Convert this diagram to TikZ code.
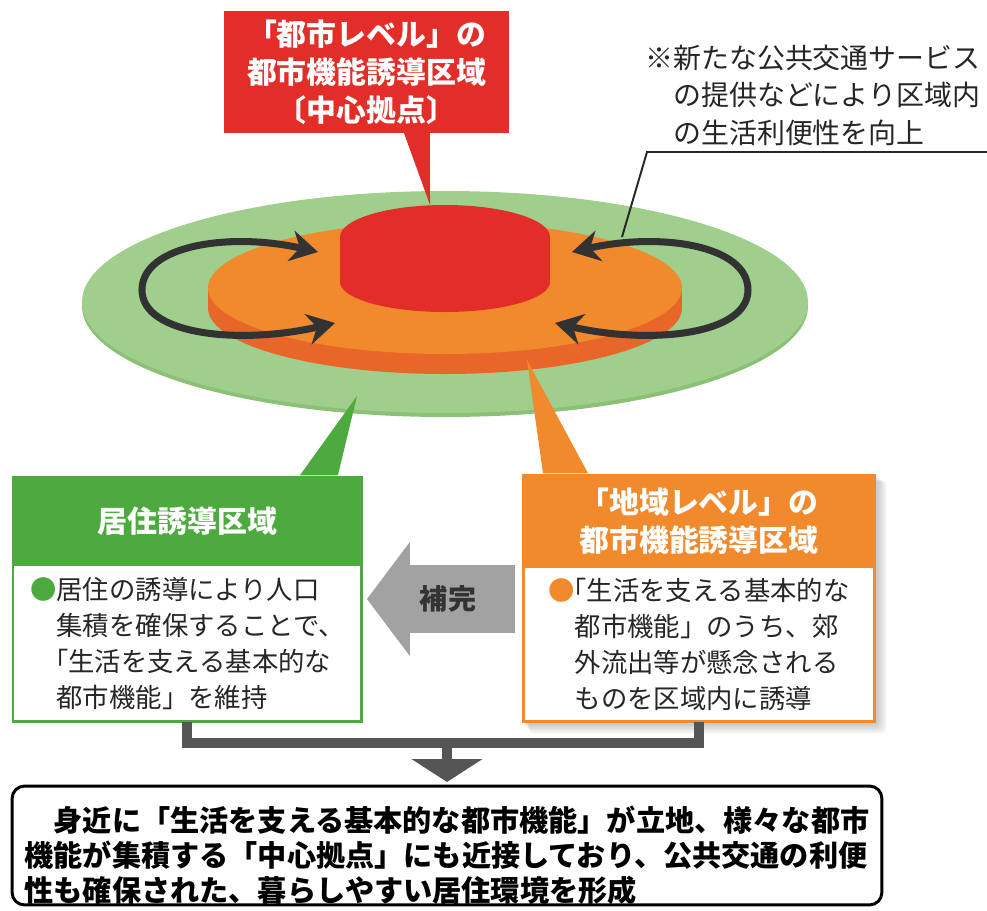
\documentclass[tikz,border=0pt]{standalone}
\usepackage{fontspec}
\setmainfont{Noto Sans CJK JP}
\usetikzlibrary{arrows.meta, positioning, calc}

\definecolor{cityred}{RGB}{227,45,40}
\definecolor{regionorange}{RGB}{240,138,44}
\definecolor{rimorange}{RGB}{232,102,40}
\definecolor{livegreen}{RGB}{76,170,62}
\definecolor{palegreen}{RGB}{160,206,140}
\definecolor{rimgreen}{RGB}{140,192,118}
\definecolor{loopgray}{RGB}{50,50,50}
\definecolor{bargray}{RGB}{85,85,85}
\definecolor{hokangray}{RGB}{162,162,162}

\begin{document}
\begin{tikzpicture}[x=0.02cm, y=-0.02cm,
  headbox/.style={draw=#1, fill=#1, line width=1.7pt, text=white, inner sep=0pt, outer sep=0pt,
    align=center, font=\bfseries\fontsize{17pt}{21.6pt}\selectfont},
  bodybox/.style={draw=#1, fill=white, line width=1.7pt, inner sep=0pt, outer sep=0pt,
    align=left, text=black!85, font=\fontsize{15pt}{20.5pt}\selectfont},
  looparrow/.style={draw=loopgray, line width=4pt,
    arrows={Stealth[length=0.55cm, width=0.62cm, inset=0.18cm]-Stealth[length=0.55cm, width=0.62cm, inset=0.18cm]}},
  bracket/.style={draw=bargray, line width=0.2cm, line join=miter},
  hokanarrow/.style={draw=hokangray, line width=1.36cm, -{Triangle[width=2.24cm, length=0.86cm]}},
  leader/.style={draw=black!85, line width=1.1pt}
]
  \useasboundingbox (0,0) rectangle (987,910);

  % outer green ring (residential area)
  \fill[rimgreen] (445,306) ellipse [x radius=363, y radius=111];
  \fill[palegreen] (445,302) ellipse [x radius=363, y radius=111];

  % orange disk (regional level)
  \fill[rimorange] (445,308) ellipse [x radius=237, y radius=66];
  \fill[rimorange] (208,288) rectangle (682,308);
  \fill[regionorange] (445,288) ellipse [x radius=237, y radius=66];

  % red cylinder (city level)
  \fill[cityred] (445,282) ellipse [x radius=105, y radius=30];
  \fill[cityred] (340,237) rectangle (550,282);
  \fill[cityred] (445,237) ellipse [x radius=105, y radius=32];

  % circulation arrows
  \draw[looparrow] (318,252) .. controls (230,232) and (142,245) .. (142,290)
    .. controls (142,335) and (240,345) .. (335,323);
  \draw[looparrow] (572,252) .. controls (660,232) and (748,245) .. (748,290)
    .. controls (748,335) and (650,345) .. (555,323);

  % callout tips
  \coordinate (citytip) at (430,205);
  \coordinate (livetip) at (357,396);
  \coordinate (regiontip) at (527,360);
  \coordinate (leadtip) at (622,237);

  % top callout
  \node[headbox=cityred, minimum width=5.66cm, minimum height=2.4cm, anchor=north west]
    (citybox) at (225,12) {「都市レベル」の\\都市機能誘導区域\\〔中心拠点〕};
  \fill[cityred] ([xshift=0.73cm, yshift=1pt]citybox.south) -- (citytip)
    -- ([xshift=1.27cm, yshift=1pt]citybox.south) -- cycle;

  % note on public transport
  \node[font=\fontsize{15.9pt}{21.3pt}\selectfont, align=left, inner sep=0pt, anchor=west, text=black!85]
    (note) at (645,95) {※新たな公共交通サービス\\　の提供などにより区域内\\　の生活利便性を向上};
  \coordinate (leadbend) at (647,152);
  \draw[leader] (leadtip) -- (leadbend) -- ++(345,0);

  % residential callout (left)
  \node[headbox=livegreen, minimum width=6.98cm, minimum height=1.76cm, anchor=north west]
    (livehead) at (13,477) {居住誘導区域};
  \node[bodybox=livegreen, minimum width=6.98cm, minimum height=3.14cm, below=0pt of livehead]
    (livebody) {{\color{livegreen}●}居住の誘導により人口\\　集積を確保することで、\\　\hspace{-0.55em}「生活を支える基本的な\\　都市機能」を維持};
  \fill[livegreen] ([xshift=2.25cm, yshift=1pt]livehead.north) -- (livetip)
    -- ([xshift=3.01cm, yshift=1pt]livehead.north) -- cycle;

  % regional callout (right)
  \foreach \s in {1,...,6}
    \fill[black, opacity=0.035, rounded corners=0.1cm] (523+\s, 475+\s) rectangle (877+1.6*\s, 724+1.6*\s);
  \node[headbox=regionorange, minimum width=7.04cm, minimum height=1.84cm, anchor=north west]
    (regionhead) at (523,475) {「地域レベル」の\\都市機能誘導区域};
  \node[bodybox=regionorange, minimum width=7.04cm, minimum height=3.1cm, below=0pt of regionhead]
    (regionbody) {{\color{regionorange}●}\hspace{-0.55em}「生活を支える基本的な\\　都市機能」のうち、郊\\　外流出等が懸念される\\　ものを区域内に誘導};
  \fill[regionorange] ([xshift=-3.12cm, yshift=1pt]regionhead.north) -- (regiontip)
    -- ([xshift=-2.22cm, yshift=1pt]regionhead.north) -- cycle;

  % complement arrow
  \coordinate (hokanaxis) at (448,599);
  \draw[hokanarrow] ($(regionbody.west |- hokanaxis)+(-8,0)$) -- ($(livebody.east |- hokanaxis)+(5,0)$);
  \node[font=\bfseries\fontsize{16pt}{16pt}\selectfont, text=black!80] (hokan) at (hokanaxis) {補完};

  % result box
  \node[draw, line width=1.7pt, rounded corners=0.25cm, minimum width=17.4cm, minimum height=2.38cm,
    anchor=north, outer sep=0pt] (result) at (447,786) {};
  \node[font=\bfseries\fontsize{16.6pt}{19.9pt}\selectfont, align=left, inner sep=0pt]
    (resulttext) at ([yshift=-0.2cm]result.center)
    {　身近に「生活を支える基本的な都市機能」が立地、様々な都市\\機能が集積する「中心拠点」にも近接しており、公共交通の利便\\性も確保された、暮らしやすい居住環境を形成};

  % joining bracket
  \coordinate (merge) at (447,743);
  \draw[bracket] (livebody.south) |- (merge) -| (regionbody.south);
  \draw[bracket, -{Triangle[width=1.4cm, length=0.46cm]}, shorten >=0.08cm] (merge) -- (result.north);
\end{tikzpicture}
\end{document}
